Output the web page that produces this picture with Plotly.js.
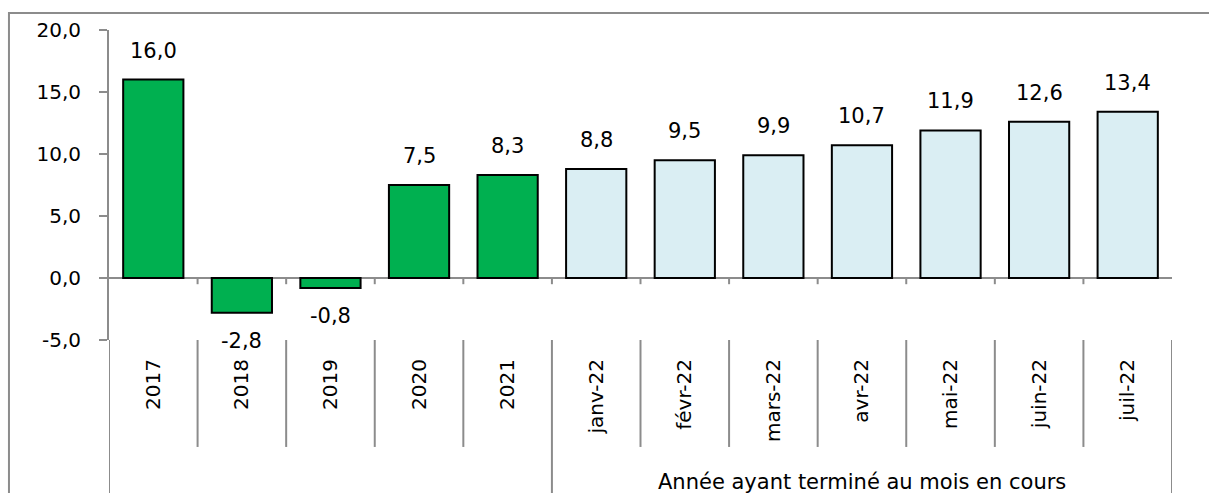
<!DOCTYPE html>
<html>
<head>
<meta charset="utf-8">
<script src="https://cdn.plot.ly/plotly-3.0.1.min.js"></script>
<style>html,body{margin:0;padding:0;background:#fff;}#chart{width:1209px;height:493px;}</style>
</head>
<body>
<div id="chart"></div>
<script>
const categories = ["2017","2018","2019","2020","2021","janv-22","févr-22","mars-22","avr-22","mai-22","juin-22","juil-22"];
const values = [16.0, -2.8, -0.8, 7.5, 8.3, 8.8, 9.5, 9.9, 10.7, 11.9, 12.6, 13.4];
const isAnnual = [true, true, true, true, true, false, false, false, false, false, false, false];
const groupLabel = "Année ayant terminé au mois en cours";
const yTicks = [-5, 0, 5, 10, 15, 20];

const FONT = "DejaVu Sans";
const GREEN = "#00B050";
const LIGHT = "#DAEEF3";
const GRAY = "#8c8c8c";

const fmt = v => v.toFixed(1).replace(".", ",");

const trace = {
  type: "bar",
  x: categories,
  y: values,
  marker: {
    color: isAnnual.map(a => a ? GREEN : LIGHT),
    line: {color: "#000000", width: 2}
  },
  hoverinfo: "skip",
  showlegend: false
};

const annotations = values.map((v, i) => ({
  x: i, y: v, xref: "x", yref: "y",
  text: fmt(v), showarrow: false,
  xanchor: "center",
  yanchor: v >= 0 ? "bottom" : "top",
  yshift: v >= 0 ? 15 : -14,
  font: {family: FONT, size: 21, color: "#000"}
}));

const firstMonth = isAnnual.indexOf(false);
const n = categories.length;
annotations.push({
  x: (firstMonth - 0.5 + n - 0.5) / 2, xref: "x",
  y: -0.458, yref: "paper",
  text: groupLabel, showarrow: false,
  xanchor: "center", yanchor: "middle",
  font: {family: FONT, size: 21, color: "#000"}
});

const shapes = [];
for (let i = 0; i <= n; i++) {
  const xb = i - 0.5;
  const isGroupEdge = (i === 0 || i === firstMonth || i === n);
  shapes.push({
    type: "line", xref: "x", yref: "paper",
    x0: xb, x1: xb, y0: 0, y1: isGroupEdge ? -0.55 : -0.345,
    line: {color: GRAY, width: 2}
  });
  if (i > 0 && i < n) {
    shapes.push({
      type: "line", xref: "x", yref: "y",
      x0: xb, x1: xb, y0: 0, y1: -0.5,
      line: {color: GRAY, width: 2}
    });
  }
}
shapes.push({
  type: "rect", xref: "paper", yref: "paper",
  x0: -0.0941, x1: 1.2, y0: -0.7, y1: 1.0548,
  line: {color: GRAY, width: 2}, fillcolor: "rgba(0,0,0,0)", layer: "below"
});

const layout = {
  width: 1209, height: 493,
  margin: {l: 109, r: 37, t: 30, b: 153},
  paper_bgcolor: "#fff", plot_bgcolor: "#fff",
  bargap: 0.32,
  showlegend: false,
  font: {family: FONT, size: 20, color: "#000"},
  xaxis: {
    type: "category",
    categoryorder: "array", categoryarray: categories,
    range: [-0.5, n - 0.5],
    showline: false, showgrid: false, zeroline: false,
    ticks: "", tickangle: -90,
    ticklabelstandoff: 14,
    tickfont: {family: FONT, size: 20, color: "#000"},
    fixedrange: true
  },
  yaxis: {
    range: [-5, 20],
    tickvals: yTicks,
    ticktext: yTicks.map(fmt),
    ticks: "outside", ticklen: 8, tickwidth: 2, tickcolor: GRAY,
    showline: true, linecolor: GRAY, linewidth: 2,
    showgrid: false,
    zeroline: true, zerolinecolor: GRAY, zerolinewidth: 2,
    ticklabelstandoff: 14,
    tickfont: {family: FONT, size: 20, color: "#000"},
    fixedrange: true
  },
  annotations: annotations,
  shapes: shapes
};

Plotly.newPlot("chart", [trace], layout, {staticPlot: true, displayModeBar: false});
</script>
</body>
</html>
